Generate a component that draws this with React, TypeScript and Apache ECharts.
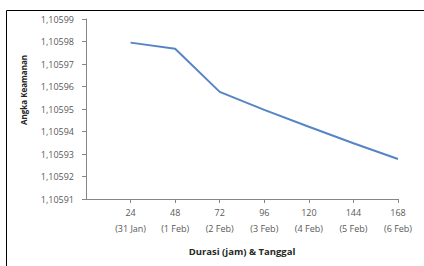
import React, { useEffect, useRef } from "react";
import * as echarts from "echarts";

const hours = [24, 48, 72, 96, 120, 144, 168];
const dates = ["(31 Jan)", "(1 Feb)", "(2 Feb)", "(3 Feb)", "(4 Feb)", "(5 Feb)", "(6 Feb)"];
const safetyFactor = [1.1059795, 1.1059768, 1.1059576, 1.1059496, 1.1059421, 1.1059348, 1.1059278];
const yTicks = [1.10591, 1.10599];
const yTitle = "Angka Keamanan";
const xTitle = "Durasi (jam) & Tanggal";

const FONT = "Open Sans";

export default function App() {
  const ref = useRef<HTMLDivElement>(null);
  useEffect(() => {
    if (!ref.current) return;
    const chart = echarts.init(ref.current, null, { renderer: "svg" });
    chart.setOption({
      animation: false,
      backgroundColor: "#ffffff",
      grid: { left: 86, top: 19, right: 26, bottom: 67 },
      xAxis: {
        type: "value",
        min: 0,
        max: 168,
        interval: 24,
        splitLine: { show: false },
        axisLine: { show: true, lineStyle: { color: "#868686", width: 1 } },
        axisTick: { show: true, length: 4, lineStyle: { color: "#868686" } },
        axisLabel: {
          color: "#595959",
          fontFamily: FONT,
          fontSize: 9,
          lineHeight: 16,
          margin: 5,
          showMinLabel: false,
          formatter: (v: number) => {
            const i = hours.indexOf(v);
            return i >= 0 ? `${hours[i]}\n${dates[i]}` : "";
          },
        },
      },
      yAxis: {
        type: "value",
        min: yTicks[0],
        max: yTicks[1],
        interval: 0.00001,
        splitLine: { show: false },
        axisLine: { show: true, lineStyle: { color: "#868686", width: 1 } },
        axisTick: { show: true, length: 4, lineStyle: { color: "#868686" } },
        axisLabel: {
          color: "#595959",
          fontFamily: FONT,
          fontSize: 9,
          margin: 12,
          formatter: (v: number) => v.toFixed(5).replace(".", ","),
        },
      },
      graphic: [
        {
          type: "rect",
          shape: { x: 6.5, y: 10.5, width: 440, height: 270 },
          style: { fill: "none", stroke: "#000000", lineWidth: 1 },
          silent: true,
        },
        {
          type: "text",
          x: 23,
          y: 90,
          rotation: Math.PI / 2,
          style: {
            text: yTitle,
            font: `bold 8px "${FONT}"`,
            fill: "#262626",
            align: "center",
            verticalAlign: "middle",
          },
        },
        {
          type: "text",
          x: 242,
          y: 251,
          style: {
            text: xTitle,
            font: `bold 9.5px "${FONT}"`,
            fill: "#262626",
            align: "center",
            verticalAlign: "middle",
          },
        },
      ],
      series: [
        {
          type: "line",
          data: hours.map((h, i) => [h, safetyFactor[i]]),
          showSymbol: false,
          lineStyle: { color: "#5585c4", width: 2 },
        },
      ],
    });
    return () => chart.dispose();
  }, []);
  return <div ref={ref} style={{ width: 424, height: 266, position: "absolute", left: 0, top: 0 }} />;
}
